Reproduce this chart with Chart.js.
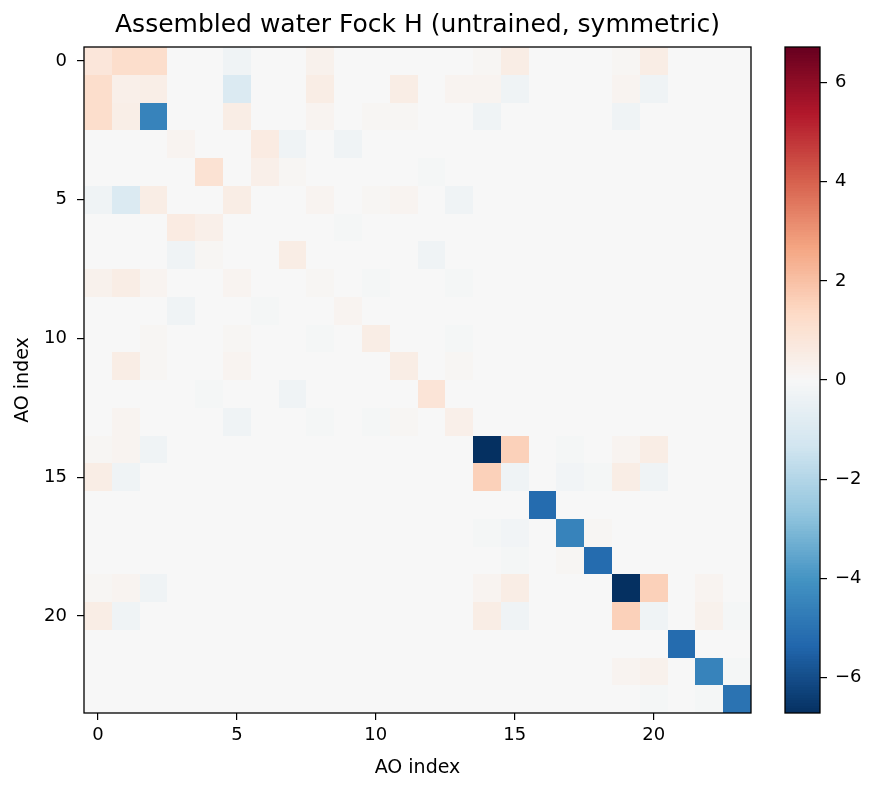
<!DOCTYPE html>
<html>
<head>
<meta charset="utf-8">
<title>Assembled water Fock H</title>
<script src="https://cdn.jsdelivr.net/npm/chart.js@4.4.1/dist/chart.umd.min.js"></script>
<style>
  body { margin: 0; background: #ffffff; }
  #wrap { position: relative; width: 879px; height: 791px; }
  #heat { position: absolute; left: 0; top: 0; }
  #cbar { position: absolute; left: 770px; top: 0; }
</style>
</head>
<body>
<div id="wrap">
  <canvas id="heat" width="835" height="791"></canvas>
  <canvas id="cbar" width="109" height="791"></canvas>
</div>
<script>
// AO indices (rows and columns of the matrix)
const aoIndex = [0, 1, 2, 3, 4, 5, 6, 7, 8, 9, 10, 11, 12, 13, 14, 15, 16, 17, 18, 19, 20, 21, 22, 23];
const axisTicks = [0, 5, 10, 15, 20];
const colorbarTicks = [-6, -4, -2, 0, 2, 4, 6];
const vmax = 6.72;
const chartTitle = 'Assembled water Fock H (untrained, symmetric)';

// Fock matrix values, one row per AO
const fockH = [
  [ 0.8,  1.2,  1.2,  0,    0,   -0.3,  0,    0,    0.3,  0,    0,    0,    0,    0,    0.1,  0.5,  0,    0,    0,    0.1,  0.5,  0,    0,    0  ],
  [ 1.2,  0.4,  0.45, 0,    0,   -1.0,  0,    0,    0.5,  0,    0,    0.5,  0,    0.2,  0.2, -0.3,  0,    0,    0,    0.2, -0.3,  0,    0,    0  ],
  [ 1.2,  0.45,-4.5,  0,    0,    0.5,  0,    0,    0.2,  0,    0.1,  0.1,  0,    0,   -0.3,  0,    0,    0,    0,   -0.3,  0,    0,    0,    0  ],
  [ 0,    0,    0,    0.2,  0,    0,    0.6, -0.3,  0,   -0.3,  0,    0,    0,    0,    0,    0,    0,    0,    0,    0,    0,    0,    0,    0  ],
  [ 0,    0,    0,    0,    1.0,  0,    0.4,  0.1,  0,    0,    0,    0,   -0.1,  0,    0,    0,    0,    0,    0,    0,    0,    0,    0,    0  ],
  [-0.3, -1.0,  0.5,  0,    0,    0.5,  0,    0,    0.2,  0,    0.1,  0.2,  0,   -0.3,  0,    0,    0,    0,    0,    0,    0,    0,    0,    0  ],
  [ 0,    0,    0,    0.6,  0.4,  0,    0,    0,    0,   -0.1,  0,    0,    0,    0,    0,    0,    0,    0,    0,    0,    0,    0,    0,    0  ],
  [ 0,    0,    0,   -0.3,  0.1,  0,    0,    0.5,  0,    0,    0,    0,   -0.3,  0,    0,    0,    0,    0,    0,    0,    0,    0,    0,    0  ],
  [ 0.3,  0.5,  0.2,  0,    0,    0.2,  0,    0,    0.1,  0,   -0.1,  0,    0,   -0.1,  0,    0,    0,    0,    0,    0,    0,    0,    0,    0  ],
  [ 0,    0,    0,   -0.3,  0,    0,   -0.1,  0,    0,    0.2,  0,    0,    0,    0,    0,    0,    0,    0,    0,    0,    0,    0,    0,    0  ],
  [ 0,    0,    0.1,  0,    0,    0.1,  0,    0,   -0.1,  0,    0.5,  0,    0,   -0.1,  0,    0,    0,    0,    0,    0,    0,    0,    0,    0  ],
  [ 0,    0.5,  0.1,  0,    0,    0.2,  0,    0,    0,    0,    0,    0.5,  0,    0.1,  0,    0,    0,    0,    0,    0,    0,    0,    0,    0  ],
  [ 0,    0,    0,    0,   -0.1,  0,    0,   -0.3,  0,    0,    0,    0,    0.9,  0,    0,    0,    0,    0,    0,    0,    0,    0,    0,    0  ],
  [ 0,    0.2,  0,    0,    0,   -0.3,  0,    0,   -0.1,  0,   -0.1,  0.1,  0,    0.4,  0,    0,    0,    0,    0,    0,    0,    0,    0,    0  ],
  [ 0.1,  0.2, -0.3,  0,    0,    0,    0,    0,    0,    0,    0,    0,    0,    0,   -6.72, 1.6,  0,   -0.1,  0,    0.2,  0.5,  0,    0,    0  ],
  [ 0.5, -0.3,  0,    0,    0,    0,    0,    0,    0,    0,    0,    0,    0,    0,    1.6, -0.3,  0,   -0.2, -0.1,  0.5, -0.3,  0,    0,    0  ],
  [ 0,    0,    0,    0,    0,    0,    0,    0,    0,    0,    0,    0,    0,    0,    0,    0,   -5.2,  0,    0,    0,    0,    0,    0,    0  ],
  [ 0,    0,    0,    0,    0,    0,    0,    0,    0,    0,    0,    0,    0,    0,   -0.1, -0.2,  0,   -4.5,  0.1,  0,    0,    0,    0,    0  ],
  [ 0,    0,    0,    0,    0,    0,    0,    0,    0,    0,    0,    0,    0,    0,    0,   -0.1,  0,    0.1, -5.2,  0,    0,    0,    0,    0  ],
  [ 0.1,  0.2, -0.3,  0,    0,    0,    0,    0,    0,    0,    0,    0,    0,    0,    0.2,  0.5,  0,    0,    0,   -6.72, 1.6,  0,    0.2,  0  ],
  [ 0.5, -0.3,  0,    0,    0,    0,    0,    0,    0,    0,    0,    0,    0,    0,    0.5, -0.3,  0,    0,    0,    1.6, -0.3,  0,    0.3, -0.1],
  [ 0,    0,    0,    0,    0,    0,    0,    0,    0,    0,    0,    0,    0,    0,    0,    0,    0,    0,    0,    0,    0,   -5.2,  0,    0  ],
  [ 0,    0,    0,    0,    0,    0,    0,    0,    0,    0,    0,    0,    0,    0,    0,    0,    0,    0,    0,    0.2,  0.3,  0,   -4.5, -0.1],
  [ 0,    0,    0,    0,    0,    0,    0,    0,    0,    0,    0,    0,    0,    0,    0,    0,    0,    0,    0,    0,   -0.1,  0,   -0.1, -5.0]
];

const FONT = "'DejaVu Sans', sans-serif";

// RdBu_r colormap (ColorBrewer stops, low -> high)
const rdbuR = ['#053061', '#2166ac', '#4393c3', '#92c5de', '#d1e5f0', '#f7f7f7',
               '#fddbc7', '#f4a582', '#d6604d', '#b2182b', '#67001f'];
function hexToRgb(h) {
    return [parseInt(h.slice(1, 3), 16), parseInt(h.slice(3, 5), 16), parseInt(h.slice(5, 7), 16)];
}
const rdbuRgb = rdbuR.map(hexToRgb);
function cmap(v) {
    let t = (v + vmax) / (2 * vmax);
    t = Math.max(0, Math.min(1, t));
    const p = t * (rdbuRgb.length - 1);
    const i = Math.min(rdbuRgb.length - 2, Math.floor(p));
    const f = p - i;
    const a = rdbuRgb[i], b = rdbuRgb[i + 1];
    const c = a.map((x, k) => Math.round(x + (b[k] - x) * f));
    return 'rgb(' + c.join(',') + ')';
}

function minusLabel(v) {
    return v < 0 ? '\u2212' + Math.abs(v) : String(v);
}

const points = [];
aoIndex.forEach(i => aoIndex.forEach(j => points.push({ x: j, y: i, v: fockH[i][j] })));

const heatCells = {
    id: 'heatCells',
    beforeDatasetsDraw(chart) {
        const { ctx, scales: { x, y } } = chart;
        ctx.save();
        chart.data.datasets[0].data.forEach(p => {
            const x0 = Math.round(x.getPixelForValue(p.x - 0.5));
            const x1 = Math.round(x.getPixelForValue(p.x + 0.5));
            const y0 = Math.round(y.getPixelForValue(p.y - 0.5));
            const y1 = Math.round(y.getPixelForValue(p.y + 0.5));
            ctx.fillStyle = cmap(p.v);
            ctx.fillRect(x0, Math.min(y0, y1), x1 - x0, Math.abs(y1 - y0));
        });
        ctx.restore();
    },
    afterDraw(chart) {
        const { ctx, chartArea: a } = chart;
        ctx.save();
        ctx.strokeStyle = '#000';
        ctx.lineWidth = 1.3;
        ctx.strokeRect(a.left, a.top, a.right - a.left, a.bottom - a.top);
        // title centred over the axes, like matplotlib
        ctx.fillStyle = '#000';
        ctx.font = '25px ' + FONT;
        ctx.textAlign = 'center';
        ctx.textBaseline = 'middle';
        ctx.fillText(chartTitle, (a.left + a.right) / 2, 25);
        ctx.restore();
    }
};

new Chart(document.getElementById('heat'), {
    type: 'scatter',
    data: {
        datasets: [{
            data: points,
            pointRadius: 0
        }]
    },
    options: {
        responsive: false,
        animation: false,
        events: [],
        layout: { padding: { left: 0, right: 84, top: 47, bottom: 0 } },
        plugins: {
            legend: { display: false },
            tooltip: { enabled: false },
            title: { display: false }
        },
        scales: {
            x: {
                type: 'linear',
                min: -0.5,
                max: 23.5,
                afterBuildTicks: s => { s.ticks = axisTicks.map(v => ({ value: v })); },
                afterFit: s => { s.height = 78; },
                grid: { drawOnChartArea: false, drawTicks: true, tickLength: 7, color: '#000', lineWidth: 1.2 },
                border: { display: false },
                ticks: { color: '#000', font: { family: FONT, size: 18 }, padding: 5, maxRotation: 0 },
                title: {
                    display: true,
                    text: 'AO index',
                    color: '#000',
                    font: { family: FONT, size: 19 },
                    padding: { top: 0, bottom: 12 }
                }
            },
            y: {
                type: 'linear',
                reverse: true,
                min: -0.5,
                max: 23.5,
                afterBuildTicks: s => { s.ticks = axisTicks.map(v => ({ value: v })); },
                afterFit: s => { s.width = 84; },
                grid: { drawOnChartArea: false, drawTicks: true, tickLength: 7, color: '#000', lineWidth: 1.2 },
                border: { display: false },
                ticks: { color: '#000', font: { family: FONT, size: 18 }, padding: 10 },
                title: {
                    display: true,
                    text: 'AO index',
                    color: '#000',
                    font: { family: FONT, size: 19 },
                    padding: { top: 12, bottom: 0 }
                }
            }
        }
    },
    plugins: [heatCells]
});

const colorbarFill = {
    id: 'colorbarFill',
    beforeDatasetsDraw(chart) {
        const { ctx, chartArea: a, scales: { y } } = chart;
        const steps = 256;
        const dv = (2 * vmax) / steps;
        ctx.save();
        for (let k = 0; k < steps; k++) {
            const v0 = -vmax + k * dv;
            const p0 = y.getPixelForValue(v0);
            const p1 = y.getPixelForValue(v0 + dv);
            ctx.fillStyle = cmap(v0 + dv / 2);
            ctx.fillRect(a.left, Math.floor(p1), a.right - a.left, Math.ceil(p0) - Math.floor(p1));
        }
        ctx.restore();
    },
    afterDraw(chart) {
        const { ctx, chartArea: a } = chart;
        ctx.save();
        ctx.strokeStyle = '#000';
        ctx.lineWidth = 1.3;
        ctx.strokeRect(a.left, a.top, a.right - a.left, a.bottom - a.top);
        ctx.restore();
    }
};

new Chart(document.getElementById('cbar'), {
    type: 'scatter',
    data: { datasets: [] },
    options: {
        responsive: false,
        animation: false,
        events: [],
        layout: { padding: { left: 15, right: 0, top: 47, bottom: 78 } },
        plugins: { legend: { display: false }, tooltip: { enabled: false } },
        scales: {
            x: { display: false, min: 0, max: 1 },
            y: {
                type: 'linear',
                position: 'right',
                min: -vmax,
                max: vmax,
                afterBuildTicks: s => { s.ticks = colorbarTicks.map(v => ({ value: v })); },
                afterFit: s => { s.width = 59; },
                grid: { drawOnChartArea: false, drawTicks: true, tickLength: 7, color: '#000', lineWidth: 1.2 },
                border: { display: false },
                ticks: {
                    color: '#000',
                    font: { family: FONT, size: 18 },
                    padding: 8,
                    callback: v => minusLabel(v)
                }
            }
        }
    },
    plugins: [colorbarFill]
});
</script>
</body>
</html>
